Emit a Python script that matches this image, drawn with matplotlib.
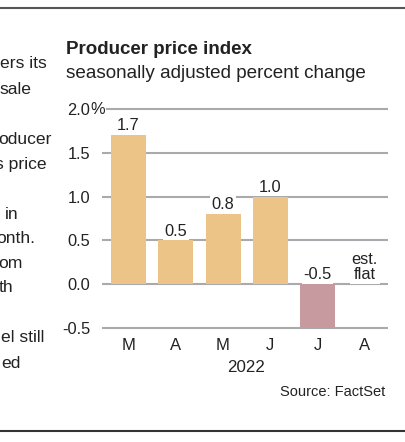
import matplotlib.pyplot as plt

plt.rcParams['font.family'] = ['Liberation Sans', 'DejaVu Sans']

# data
months = ['M', 'A', 'M', 'J', 'J', 'A']
change = [1.7, 0.5, 0.8, 1.0, -0.5, 0.0]
labels = ['1.7', '0.5', '0.8', '1.0', '-0.5', 'est.\nflat']
yticks = [-0.5, 0.0, 0.5, 1.0, 1.5, 2.0]
ytick_labels = ['-0.5', '0.0', '0.5', '1.0', '1.5', '2.0']

# cut-off article text on the left
side_text = [('ers its', 47, 64), ('sale', 32, 89), ('oducer', 52, 140),
             ('s price', 47, 164), ('in', 18, 214), ('onth.', 35, 239),
             ('om', 23, 264), ('th', 13, 288), ('el still', 44, 338),
             ('ed', 21, 363)]

W, H = 405, 442
fig = plt.figure(figsize=(W / 100, H / 100), dpi=100)
ax = fig.add_axes([102 / W, 1 - 328 / H, 286 / W, 219 / H])

pos_col = '#ecc488'
neg_col = '#c79aa0'
grid_col = '#aaaaae'
txt_col = '#222222'

ax.set_ylim(-0.5, 2.0)
ax.set_xlim(-0.56, 5.49)

ax.hlines(yticks, -0.56, 5.49, color=grid_col, lw=1.5, clip_on=False, zorder=1)

x = list(range(len(months)))
colors = [pos_col if v >= 0 else neg_col for v in change]
ax.bar(x, change, width=0.74, color=colors, zorder=2)

for xi, v, lab in zip(x, change, labels):
    top = max(v, 0)
    ax.annotate(lab, (xi, top), xytext=(0, 3.5), textcoords='offset points',
                ha='center', va='baseline', fontsize=11.8, color=txt_col,
                linespacing=1.05, zorder=3,
                bbox=dict(boxstyle='square,pad=0.1', fc='white', ec='none'))

ax.set_yticks(yticks)
ax.set_yticklabels(ytick_labels)
ax.set_xticks(x)
ax.set_xticklabels(months)
ax.tick_params(axis='both', length=0, labelcolor=txt_col)
ax.tick_params(axis='y', pad=8.5, labelsize=11.8)
ax.tick_params(axis='x', pad=7, labelsize=12)
for s in ax.spines.values():
    s.set_visible(False)

# percent sign after the top tick label
ax.annotate('%', (0, 1), xycoords='axes fraction', xytext=(-8.2, 0),
            textcoords='offset points', ha='left', va='center', fontsize=11.8,
            color=txt_col, annotation_clip=False,
            bbox=dict(boxstyle='square,pad=0.02', fc='white', ec='none'))

fig.text(66 / W, 1 - 50 / H, 'Producer price index', fontsize=13.5,
         fontweight='bold', color=txt_col, va='center')
fig.text(66 / W, 1 - 74 / H, 'seasonally adjusted percent change',
         fontsize=13.6, color=txt_col, va='center')
fig.text(246 / W, 1 - 368 / H, '2022', fontsize=12.2, color=txt_col,
         ha='center', va='center')
fig.text(385 / W, 1 - 392 / H, 'Source: FactSet', fontsize=10.5, color=txt_col,
         ha='right', va='center')

for s, xr, yc in side_text:
    fig.text(xr / W, 1 - yc / H, s, fontsize=12.6, color=txt_col,
             ha='right', va='center')

fig.add_artist(plt.Line2D([0, 1], [1 - 8 / H, 1 - 8 / H], color='#555555', lw=1.5))
fig.add_artist(plt.Line2D([0, 1], [1 - 431 / H, 1 - 431 / H], color='#333333', lw=1.5))

fig.savefig('out.png', dpi=100)
